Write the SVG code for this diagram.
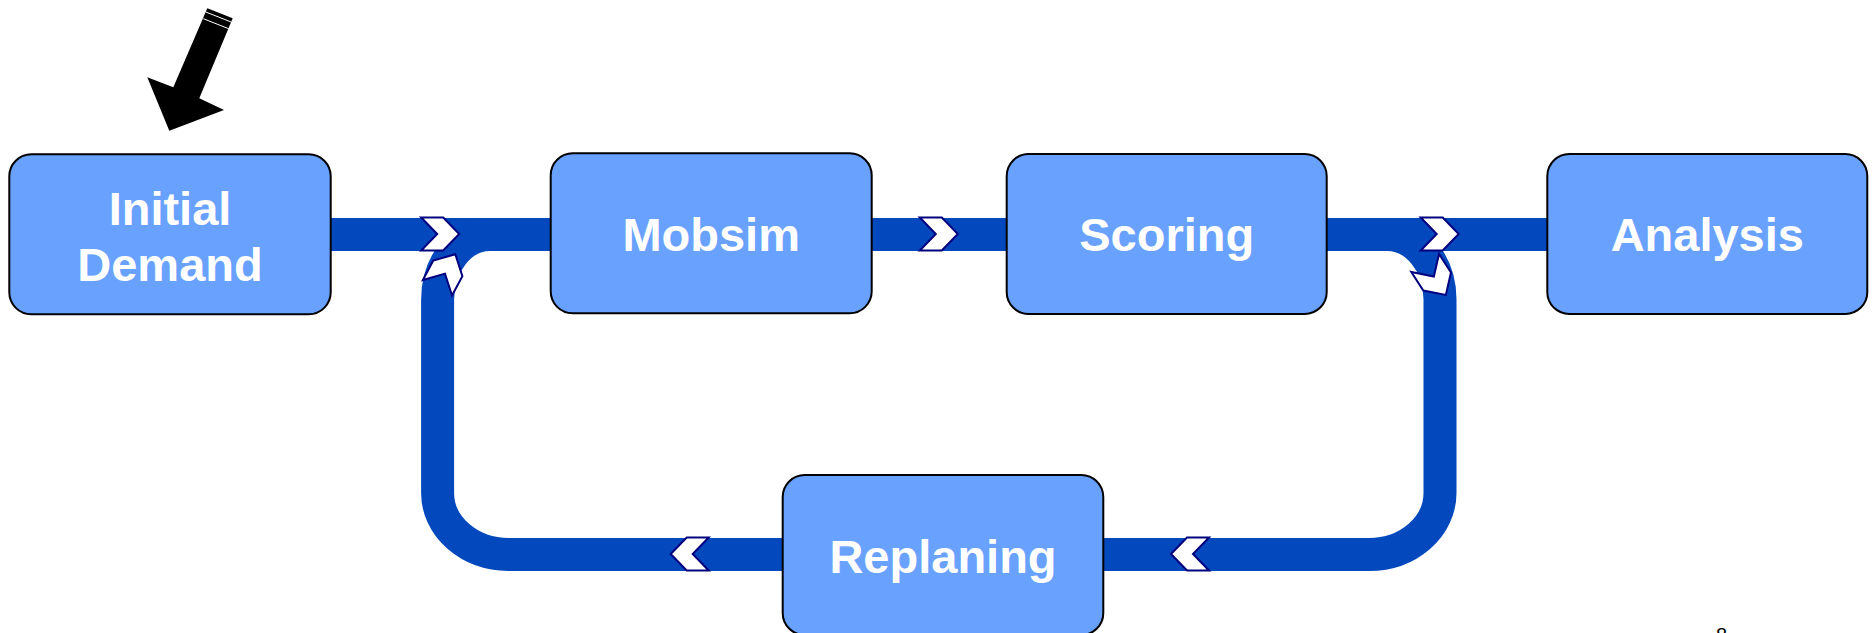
<svg xmlns="http://www.w3.org/2000/svg" width="1872" height="633" viewBox="0 0 1872 633">
  <style>
    .band { fill: none; stroke: #0349BD; stroke-width: 33; }
    .box { fill: #69A1FE; stroke: #000000; stroke-width: 2; }
    .label { fill: #FFFFFF; font-family: "Liberation Sans", Arial, sans-serif; font-weight: bold; font-size: 47px; text-anchor: middle; }
    .chev { fill: #FFFFFF; stroke: #00007F; stroke-width: 2; stroke-linejoin: miter; }
  </style>
  <defs>
    <polygon id="chevron" class="chev" points="-19,-16.5 3,-16.5 19,0 3,16.5 -19,16.5 -3,0"/>
  </defs>
  <rect width="1872" height="633" fill="#FFFFFF"/>

  <g id="connectors">
    <path class="band" d="M 330 234.5 H 551"/>
    <path class="band" d="M 871 234.5 H 1007"/>
    <path class="band" d="M 1326 234.5 H 1548"/>
    <path class="band" d="M 1326 234.5 H 1387 A 53 65 0 0 1 1440 299.5 V 493 A 71 61.5 0 0 1 1369 554.5 H 1103"/>
    <path class="band" d="M 783 554.5 H 509 A 71 61.5 0 0 1 437.6 493 V 299.5 A 52.4 65 0 0 1 490 234.5 H 551"/>
    <use href="#chevron" transform="translate(440.2,234)"/>
    <use href="#chevron" transform="translate(938.8,234)"/>
    <use href="#chevron" transform="translate(1439.7,234)"/>
    <use href="#chevron" transform="translate(1435.5,279) rotate(57)"/>
    <use href="#chevron" transform="translate(446.4,271) rotate(-62)"/>
    <use href="#chevron" transform="translate(689.7,554) rotate(180)"/>
    <use href="#chevron" transform="translate(1190,554) rotate(180)"/>
  </g>

  <g id="start-arrow">
    <polygon points="207.3,8.3 232.7,18.3 199.3,98.3 224,110 169.3,130.7 147.3,77.3 173.3,87.3" fill="#000000"/>
    <line x1="205.8" y1="12" x2="231.2" y2="22" stroke="#FFFFFF" stroke-width="1"/>
    <line x1="203.3" y1="18.7" x2="228.7" y2="28.7" stroke="#FFFFFF" stroke-width="1"/>
  </g>

  <g id="node-initial-demand">
    <rect class="box" x="9.3" y="154.3" width="321.4" height="160" rx="22" ry="22"/>
    <text class="label" x="170" y="225">Initial</text>
    <text class="label" x="170" y="281">Demand</text>
  </g>
  <g id="node-mobsim">
    <rect class="box" x="550.7" y="153.3" width="321" height="160" rx="22" ry="22"/>
    <text class="label" x="711.2" y="251">Mobsim</text>
  </g>
  <g id="node-scoring">
    <rect class="box" x="1006.7" y="154" width="320" height="160" rx="22" ry="22"/>
    <text class="label" x="1166.7" y="251">Scoring</text>
  </g>
  <g id="node-analysis">
    <rect class="box" x="1547.3" y="154" width="320" height="160" rx="22" ry="22"/>
    <text class="label" x="1707.3" y="251">Analysis</text>
  </g>
  <g id="node-replaning">
    <rect class="box" x="782.7" y="475" width="320.6" height="160" rx="22" ry="22"/>
    <text class="label" x="943" y="573">Replaning</text>
  </g>

  <text x="1721.5" y="641.5" font-family="Liberation Sans, Arial, sans-serif" font-size="20" text-anchor="middle" fill="#000000">8</text>
</svg>
